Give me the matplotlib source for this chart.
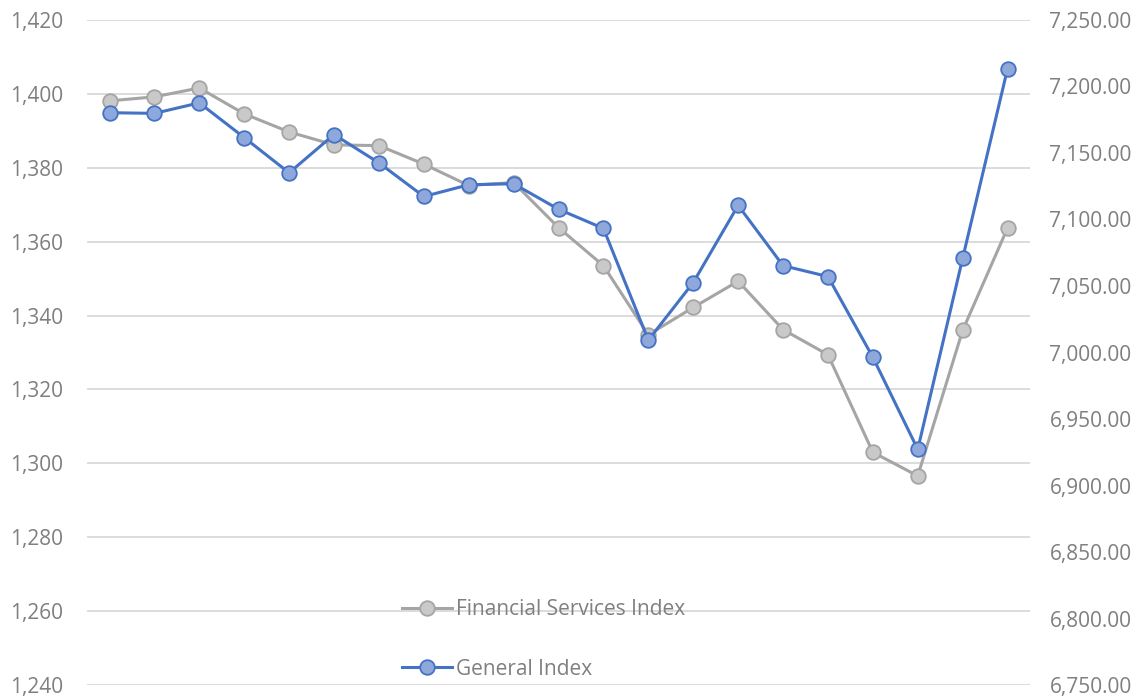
import matplotlib.pyplot as plt
from matplotlib.ticker import FuncFormatter
import numpy as np

plt.rcParams['font.family'] = ['Open Sans', 'DejaVu Sans']

# values (21 periods, no x labels)
financial = [1398.1, 1399.2, 1401.6, 1394.6, 1389.7, 1386.2, 1386.0, 1381.0,
             1375.2, 1376.0, 1363.8, 1353.5, 1334.8, 1342.2, 1349.3, 1336.2,
             1329.4, 1303.0, 1296.6, 1336.0, 1363.7]
general = [7180.3, 7179.8, 7187.7, 7161.6, 7135.1, 7163.9, 7142.6, 7117.3,
           7126.1, 7126.9, 7107.7, 7093.3, 7009.3, 7052.6, 7110.6, 7065.3,
           7057.1, 6996.4, 6927.2, 7070.8, 7213.4]
left_ticks = np.arange(1240, 1421, 20)
right_ticks = np.arange(6750, 7251, 50)

x = np.arange(len(financial))
text_col = '#7F7F7F'

fig = plt.figure(figsize=(11.47, 6.99), dpi=100)
ax = fig.add_axes([0.0759, 0.020, 0.8221, 0.9514])
ax2 = ax.twinx()

ax.plot(x, financial, color='#A5A5A5', lw=2.2, marker='o', ms=10.5,
        mfc='#C9C9C9', mec='#A5A5A5', mew=1.3, label='Financial Services Index',
        zorder=3)
ax2.plot(x, general, color='#4472C4', lw=2.2, marker='o', ms=10.5,
         mfc='#8FA8DC', mec='#4472C4', mew=1.3, label='General Index', zorder=3)

ax.set_xlim(-0.5, len(x) - 0.5)
ax.set_ylim(1240, 1420)
ax2.set_ylim(6750, 7250)
ax.set_yticks(left_ticks)
ax2.set_yticks(right_ticks)
ax.yaxis.set_major_formatter(FuncFormatter(lambda v, p: f'{v:,.0f}'))
ax2.yaxis.set_major_formatter(FuncFormatter(lambda v, p: f'{v:,.2f}'))
ax.set_xticks([])
ax.grid(axis='y', color='#D9D9D9', lw=1.3)
ax.set_axisbelow(True)

for a in (ax, ax2):
    for s in a.spines.values():
        s.set_visible(False)
    a.tick_params(axis='y', length=0, labelsize=15, labelcolor=text_col)
ax.tick_params(axis='y', pad=17)
ax2.tick_params(axis='y', pad=14)

h1, l1 = ax.get_legend_handles_labels()
h2, l2 = ax2.get_legend_handles_labels()
leg = ax2.legend(h1 + h2, l1 + l2, loc='lower left', bbox_to_anchor=(0.314, -0.02),
                 frameon=False, fontsize=15, labelcolor=text_col,
                 handlelength=2.4, handletextpad=0.2, labelspacing=1.85)

fig.savefig('out.png', dpi=100)
